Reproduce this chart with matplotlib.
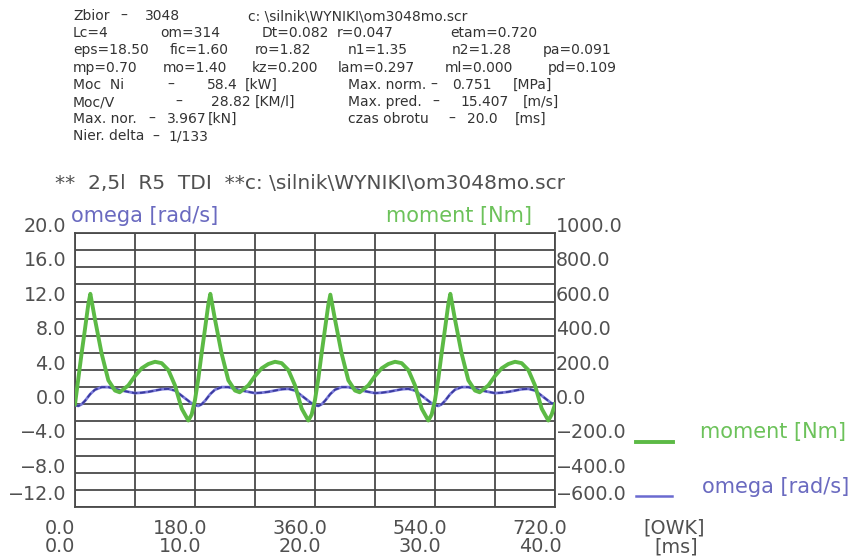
import matplotlib
matplotlib.use("Agg")
import matplotlib.pyplot as plt
from matplotlib.transforms import blended_transform_factory, ScaledTranslation
import numpy as np

crank_deg = [
    0, 5, 10, 15, 20, 23, 30, 40, 50, 60, 67, 80, 90, 100, 110, 120, 130, 140, 150, 160, 170, 175,
    180, 185, 190, 195, 200, 203, 210, 220, 230, 240, 247, 260, 270, 280, 290, 300, 310, 320, 330, 340, 350, 355,
    360, 365, 370, 375, 380, 383, 390, 400, 410, 420, 427, 440, 450, 460, 470, 480, 490, 500, 510, 520, 530, 535,
    540, 545, 550, 555, 560, 563, 570, 580, 590, 600, 607, 620, 630, 640, 650, 660, 670, 680, 690, 700, 710, 715,
    720,
]

# moment [Nm] (right axis)
moment_nm = [
    0, 150, 300, 440, 585, 645, 495, 295, 140, 80, 70, 110, 165, 210, 235, 248, 240, 200, 110, -25, -95, -60,
    25, 150, 300, 440, 585, 645, 495, 295, 140, 80, 70, 110, 165, 210, 235, 248, 240, 200, 110, -25, -95, -60,
    25, 150, 300, 440, 580, 640, 495, 295, 140, 80, 70, 110, 165, 210, 235, 248, 240, 200, 110, -25, -95, -60,
    25, 150, 300, 440, 585, 645, 495, 295, 140, 80, 70, 110, 165, 210, 235, 248, 240, 200, 110, -25, -95, -60,
    0,
]

# omega [rad/s] (left axis)
omega_rads = [
    -0.1, -0.2, 0.0, 0.4, 0.9, 1.2, 1.7, 2.0, 2.0, 1.8, 1.65, 1.45, 1.3, 1.35, 1.45, 1.6, 1.75, 1.8, 1.6, 1.0, 0.4, 0.1,
    -0.1, -0.2, 0.0, 0.4, 0.9, 1.2, 1.7, 2.0, 2.0, 1.8, 1.65, 1.45, 1.3, 1.35, 1.45, 1.6, 1.75, 1.8, 1.6, 1.0, 0.4, 0.1,
    -0.1, -0.2, 0.0, 0.4, 0.9, 1.2, 1.7, 2.0, 2.0, 1.8, 1.65, 1.45, 1.3, 1.35, 1.45, 1.6, 1.75, 1.8, 1.6, 1.0, 0.4, 0.1,
    -0.1, -0.2, 0.0, 0.4, 0.9, 1.2, 1.7, 2.0, 2.0, 1.8, 1.65, 1.45, 1.3, 1.35, 1.45, 1.6, 1.75, 1.8, 1.6, 1.0, 0.4, 0.1,
    0.1,
]

angle_ticks = [0, 180, 360, 540, 720]
time_ticks_ms = [0.0, 10.0, 20.0, 30.0, 40.0]
omega_ticks = [-12, -8, -4, 0, 4, 8, 12, 16, 20]
moment_ticks = [-600, -400, -200, 0, 200, 400, 600, 800, 1000]

title = "**  2,5l  R5  TDI  **c: \\silnik\\WYNIKI\\om3048mo.scr"

# header block: (x px, row, text)
header = [
    (73, 0, "Zbior"), (120, 0, "\u2013"), (145, 0, "3048"), (248, 0, "c: \\silnik\\WYNIKI\\om3048mo.scr"),
    (73, 1, "Lc=4"), (160, 1, "om=314"), (262, 1, "Dt=0.082"), (337, 1, "r=0.047"), (450, 1, "etam=0.720"),
    (73, 2, "eps=18.50"), (170, 2, "fic=1.60"), (255, 2, "ro=1.82"), (348, 2, "n1=1.35"), (452, 2, "n2=1.28"),
    (543, 2, "pa=0.091"),
    (73, 3, "mp=0.70"), (163, 3, "mo=1.40"), (252, 3, "kz=0.200"), (338, 3, "lam=0.297"), (445, 3, "ml=0.000"),
    (548, 3, "pd=0.109"),
    (73, 4, "Moc  Ni"), (167, 4, "\u2013"), (207, 4, "58.4"), (245, 4, "[kW]"),
    (348, 4, "Max. norm."), (430, 4, "\u2013"), (452, 4, "0.751"), (513, 4, "[MPa]"),
    (73, 5, "Moc/V"), (175, 5, "\u2013"), (211, 5, "28.82"), (255, 5, "[KM/l]"),
    (348, 5, "Max. pred."), (432, 5, "\u2013"), (460, 5, "15.407"), (523, 5, "[m/s]"),
    (73, 6, "Max. nor."), (148, 6, "\u2013"), (167, 6, "3.967"), (208, 6, "[kN]"),
    (348, 6, "czas obrotu"), (448, 6, "\u2013"), (467, 6, "20.0"), (515, 6, "[ms]"),
    (73, 7, "Nier. delta"), (152, 7, "\u2013"), (168, 7, "1/133"),
]

# vertical lift [px] of the y tick labels above their grid line (bottom to top)
label_lift = [12, 5, 6, 6, 6, 6, 6, 7, 7]

GREEN = "#5cba45"
GREEN_TXT = "#6cc25a"
BLUE = "#3a3a9e"
BLUE_TXT = "#6a6ac0"
GRID = "#4a4a4a"
TXT = "#505050"
FS = 13.8
FS_NAME = 15

W, H = 850, 560
plt.rcParams["font.family"] = ["DejaVu Sans"]


def fx(x):
    return x / W


def fy(y):
    return 1 - y / H


fig = plt.figure(figsize=(8.5, 5.6), dpi=100)
fig.patch.set_facecolor("white")


def off(dx, dy):
    return ScaledTranslation(dx / fig.dpi, dy / fig.dpi, fig.dpi_scale_trans)


for x, row, s in header:
    fig.text(fx(x), fy(16 + row * 17.2), s, fontsize=10, color="#333333", va="center", ha="left")

fig.text(fx(55), fy(184), title, fontsize=14.5, color=TXT, va="center", ha="left")

ax = fig.add_axes([fx(75), fy(507), 480 / W, 274 / H])
ax.set_xlim(0, 720)
ax.set_ylim(-12, 20)
ax.set_xticks(angle_ticks)
ax.set_xticks(np.arange(0, 721, 90), minor=True)
ax.set_yticks(omega_ticks)
ax.set_yticks(np.arange(-12, 21, 2), minor=True)
ax.grid(which="both", color=GRID, lw=1.3)
ax.set_axisbelow(True)
ax.tick_params(which="both", length=0, labelbottom=False, labelleft=False)
for sp in ax.spines.values():
    sp.set_color(GRID)
    sp.set_linewidth(1.3)

ax2 = ax.twinx()
ax2.set_ylim(-600, 1000)
ax2.set_yticks(moment_ticks)
ax2.tick_params(length=0, labelright=False)
for sp in ax2.spines.values():
    sp.set_visible(False)

# tick labels
left_tr = blended_transform_factory(ax.transAxes, ax.transData)
for v, up in zip(omega_ticks, label_lift):
    ax.text(0, v, f"{v:.1f}".replace("-", "\u2212"), transform=left_tr + off(-9, up),
            ha="right", va="center", fontsize=FS, color=TXT)
right_tr = blended_transform_factory(ax2.transAxes, ax2.transData)
for v, up in zip(moment_ticks, label_lift):
    ax2.text(1, v, f"{v:.1f}".replace("-", "\u2212"), transform=right_tr + off(1, up),
             ha="left", va="center", fontsize=FS, color=TXT)
bot_tr = blended_transform_factory(ax.transData, ax.transAxes)
for a, t in zip(angle_ticks, time_ticks_ms):
    ax.text(a, 0, f"{a:.1f}", transform=bot_tr + off(-15, -21), ha="center", va="center",
            fontsize=FS, color=TXT)
    ax.text(a, 0, f"{t:.1f}", transform=bot_tr + off(-15, -40), ha="center", va="center",
            fontsize=FS, color=TXT)

ax.plot(crank_deg, omega_rads, color="#7a7ad8", lw=2.0, zorder=3, solid_joinstyle="round")
ax.plot(crank_deg, omega_rads, color=BLUE, lw=1.3, ls=(0, (3, 1.5)), zorder=4)
ax2.plot(crank_deg, moment_nm, color=GREEN, lw=2.8, zorder=5, solid_joinstyle="round")

fig.text(fx(71), fy(216), "omega [rad/s]", fontsize=FS_NAME, color=BLUE_TXT, va="center", ha="left")
fig.text(fx(532), fy(216), "moment [Nm]", fontsize=FS_NAME, color=GREEN_TXT, va="center", ha="right")

# legend at the right
fig.add_artist(plt.Line2D([fx(636), fx(673)], [fy(442), fy(442)], color=GREEN, lw=2.8))
fig.text(fx(846), fy(432), "moment [Nm]", fontsize=FS_NAME, color=GREEN_TXT, va="center", ha="right")
fig.add_artist(plt.Line2D([fx(636), fx(672)], [fy(496), fy(496)], color="#6a6ad0", lw=1.8))
fig.text(fx(849), fy(487), "omega [rad/s]", fontsize=FS_NAME, color=BLUE_TXT, va="center", ha="right")

fig.text(fx(674), fy(528), "[OWK]", fontsize=FS, color=TXT, va="center", ha="center")
fig.text(fx(676), fy(547), "[ms]", fontsize=FS, color=TXT, va="center", ha="center")

fig.savefig("out.png", dpi=100, facecolor="white")
